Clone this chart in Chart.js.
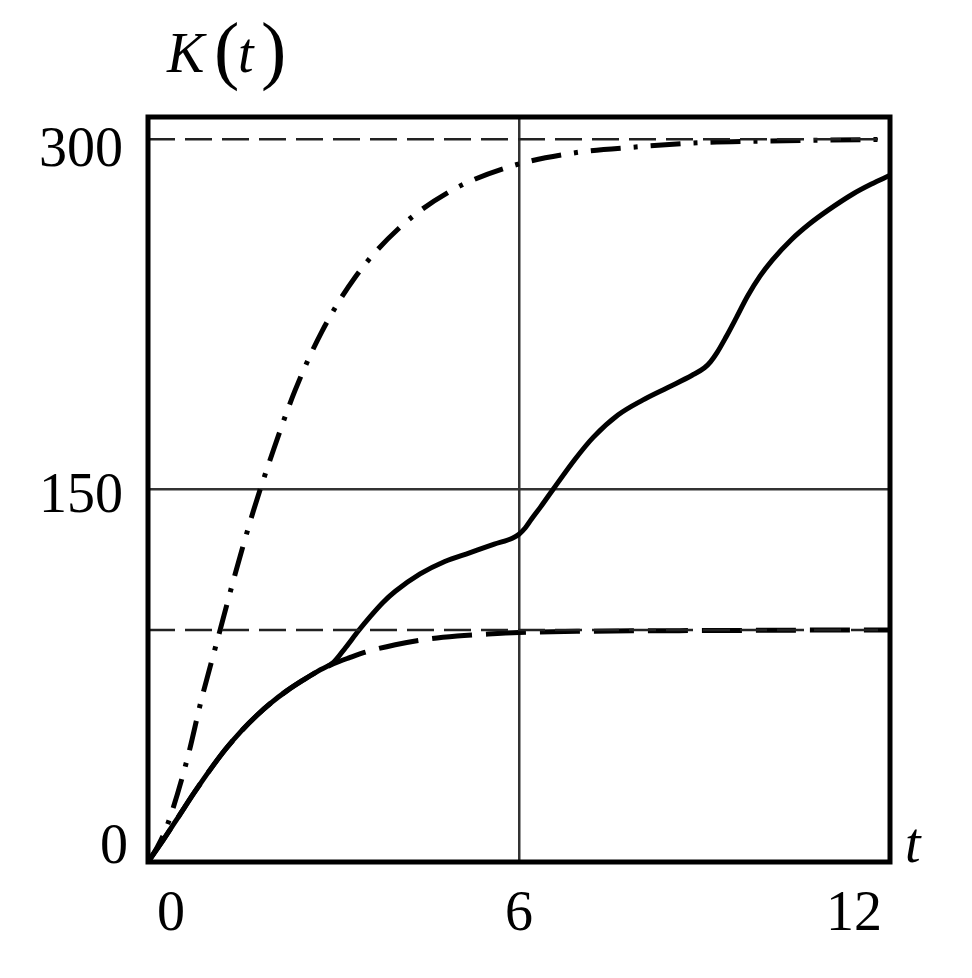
<!DOCTYPE html>
<html>
<head>
<meta charset="utf-8">
<script src="https://cdn.jsdelivr.net/npm/chart.js@4.4.1/dist/chart.umd.min.js"></script>
<style>
  body { margin: 0; background: #fff; }
</style>
</head>
<body>
<canvas id="chartK" width="972" height="978"></canvas>
<script>
// K(t) curves
const tSolid = [0, 0.25, 0.5, 0.75, 1, 1.25, 1.5, 1.75, 2, 2.25, 2.5, 2.75, 3, 3.2, 3.4, 3.6, 3.8, 4, 4.4, 4.8, 5.2, 5.6, 5.9, 6, 6.1, 6.2, 6.35, 6.55, 6.9, 7.2, 7.6, 8, 8.4, 8.8, 9, 9.1, 9.2, 9.35, 9.5, 9.7, 9.9, 10.1, 10.4, 10.7, 11, 11.4, 11.7, 12];
const kSolid = [0, 9, 18.5, 28, 37, 45.3, 52.5, 58.8, 64.3, 69, 73.1, 76.9, 80.4, 86.5, 93, 99, 104.5, 109, 116, 121, 124.5, 128, 130.5, 132, 134.5, 138, 143, 150, 162, 171, 180, 186, 191, 196, 199, 201.5, 205, 211.5, 218.5, 228, 236, 242.5, 250.5, 257, 262.5, 269, 273, 276.5];

const tDashed = [0, 0.25, 0.5, 0.75, 1, 1.25, 1.5, 1.75, 2, 2.25, 2.5, 2.75, 3, 3.25, 3.5, 4, 4.5, 5, 5.5, 6, 7, 8, 9, 10, 11, 12];
const kDashed = [0, 9, 18.5, 28, 37, 45.3, 52.5, 58.8, 64.3, 69, 73.1, 76.9, 79.8, 82.2, 84.4, 87.5, 89.7, 91, 91.8, 92.4, 92.9, 93.1, 93.2, 93.3, 93.4, 93.4];

const tDashDot = [0, 0.15, 0.3, 0.63, 0.87, 1.14, 1.41, 1.7, 2.03, 2.38, 2.81, 3.35, 4.05, 4.88, 5.85, 6.88, 7.93, 8.93, 10, 11, 12];
const kDashDot = [0, 6, 14, 41, 66, 91, 116, 141, 166, 190, 213.5, 235.5, 255, 270, 280, 285.5, 288, 289.7, 290.3, 290.7, 291];

// horizontal marker lines (asymptotes)
const kMarkers = [291, 93.4];

const xTicks = [0, 6, 12];
const yTicks = [0, 150, 300];
const xGrid = 6;
const yGrid = 150;

function toPoints(ts, ks) {
  let pts = [];
  for (let i = 0; i < ts.length; i++) {
    pts.push({ x: ts[i], y: ks[i] });
  }
  return pts;
}

let datasets = [];
kMarkers.forEach(function (k) {
  datasets.push({
    data: [{ x: 0, y: k }, { x: 12, y: k }],
    borderColor: "#222",
    borderWidth: 2.5,
    borderDash: [27, 10],
    pointRadius: 0,
  });
});
datasets.push({
  data: toPoints(tDashDot, kDashDot),
  borderColor: "#000",
  borderWidth: 5,
  borderDash: [30, 13, 4, 13],
  pointRadius: 0,
  cubicInterpolationMode: "monotone",
});
datasets.push({
  data: toPoints(tDashed, kDashed),
  borderColor: "#000",
  borderWidth: 5,
  borderDash: [40, 14],
  pointRadius: 0,
  cubicInterpolationMode: "monotone",
});
datasets.push({
  data: toPoints(tSolid, kSolid),
  borderColor: "#000",
  borderWidth: 5,
  pointRadius: 0,
  cubicInterpolationMode: "monotone",
});

const frameLabels = {
  id: "frameLabels",
  afterDraw(chart) {
    const ctx = chart.ctx;
    const a = chart.chartArea;
    const xs = chart.scales.x;
    const ys = chart.scales.y;
    ctx.save();
    ctx.strokeStyle = "#000";
    ctx.lineWidth = 5;
    ctx.strokeRect(a.left, a.top, a.right - a.left, a.bottom - a.top);

    ctx.fillStyle = "#000";
    ctx.textBaseline = "alphabetic";
    ctx.font = "56px 'Liberation Serif'";

    // y labels
    ctx.textAlign = "right";
    ctx.fillText(String(yTicks[2]), a.left - 25, ys.getPixelForValue(yTicks[2]) + 49);
    ctx.fillText(String(yTicks[1]), a.left - 25, ys.getPixelForValue(yTicks[1]) + 22);
    ctx.fillText(String(yTicks[0]), a.left - 20, ys.getPixelForValue(yTicks[0]) + 1);

    // x labels
    let base = a.bottom + 68;
    ctx.textAlign = "left";
    ctx.fillText(String(xTicks[0]), xs.getPixelForValue(xTicks[0]) + 9, base);
    ctx.textAlign = "center";
    ctx.fillText(String(xTicks[1]), xs.getPixelForValue(xTicks[1]), base);
    ctx.textAlign = "right";
    ctx.fillText(String(xTicks[2]), xs.getPixelForValue(xTicks[2]) - 8, base);

    // axis names
    ctx.textAlign = "left";
    ctx.font = "italic 56px 'Liberation Serif'";
    ctx.fillText("t", a.right + 15, a.bottom);
    ctx.fillText("K", 167, 72);
    ctx.fillText("t", 238, 72);
    ctx.font = "76px 'Liberation Serif'";
    ctx.fillText("(", 214, 75);
    ctx.fillText(")", 261, 75);
    ctx.restore();
  },
};

const ctx = document.getElementById("chartK").getContext("2d");
const chartK = new Chart(ctx, {
  type: "line",
  data: { datasets: datasets },
  options: {
    responsive: false,
    animation: false,
    layout: { padding: { left: 148, right: 82, top: 117, bottom: 116 } },
    plugins: { legend: { display: false }, tooltip: { enabled: false } },
    scales: {
      x: {
        type: "linear",
        min: 0,
        max: 12,
        afterBuildTicks: function (axis) {
          axis.ticks = xTicks.map(function (v) { return { value: v }; });
        },
        ticks: { display: false },
        border: { display: false },
        grid: {
          drawTicks: false,
          lineWidth: 2.5,
          color: function (c) { return c.tick && c.tick.value === xGrid ? "#333" : "rgba(0,0,0,0)"; },
        },
      },
      y: {
        min: 0,
        max: 300,
        afterBuildTicks: function (axis) {
          axis.ticks = yTicks.map(function (v) { return { value: v }; });
        },
        ticks: { display: false },
        border: { display: false },
        grid: {
          drawTicks: false,
          lineWidth: 2.5,
          color: function (c) { return c.tick && c.tick.value === yGrid ? "#333" : "rgba(0,0,0,0)"; },
        },
      },
    },
  },
  plugins: [frameLabels],
});
</script>
</body>
</html>
